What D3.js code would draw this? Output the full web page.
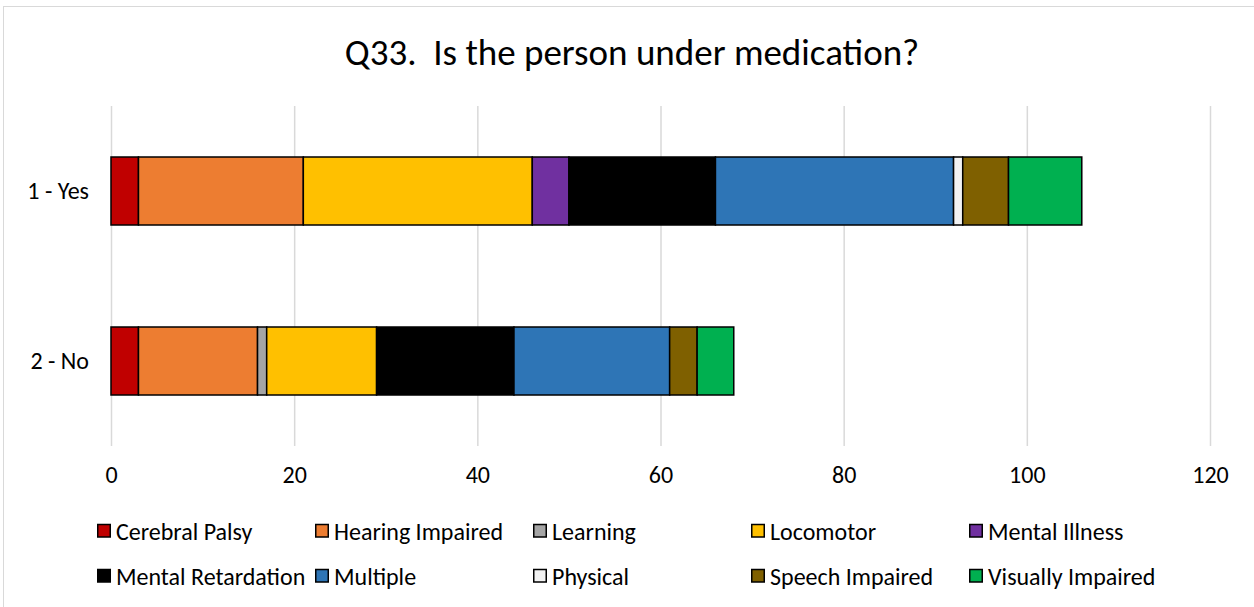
<!DOCTYPE html>
<html><head><meta charset="utf-8">
<script src="https://cdn.jsdelivr.net/npm/d3@7/dist/d3.min.js"></script>
<style>body{margin:0;background:#fff}svg{display:block}text{font-family:Carlito,Calibri,"Open Sans",sans-serif;fill:#000}</style>
</head><body><svg id="c" width="1254" height="607"></svg>
<script>
const categories = ["1 - Yes", "2 - No"];
const seriesNames = ["Cerebral Palsy","Hearing Impaired","Learning","Locomotor","Mental Illness","Mental Retardation","Multiple","Physical","Speech Impaired","Visually Impaired"];
const yesValues = [3, 18, 0, 25, 4, 16, 26, 1, 5, 8];
const noValues  = [3, 13, 1, 12, 0, 15, 17, 0, 3, 4];
const colors = ["#C00000","#ED7D31","#A5A5A5","#FFC000","#7030A0","#000000","#2E75B6","#F2F2F2","#7F6000","#00B050"];
const xTicks = [0,20,40,60,80,100,120];
const title = "Q33.  Is the person under medication?";

const svg = d3.select("#c");
svg.append("rect").attr("x",3.5).attr("y",6.5).attr("width",1260).attr("height",620)
  .attr("fill","#fff").attr("stroke","#d9d9d9").attr("stroke-width",1);

const pL=111, pR=1210, pT=106, pB=446;
const x = d3.scaleLinear().domain([0,120]).range([pL,pR]);
const y = d3.scaleBand().domain(categories).range([pT,pB]).paddingInner(0.6).paddingOuter(0.3);

svg.append("text").attr("x",632).attr("y",65).attr("text-anchor","middle")
  .style("font-size","37px").style("white-space","pre").text(title);

// gridlines
const grid = d3.axisBottom(x).tickValues(xTicks).tickSize(-(pB-pT)).tickFormat("");
svg.append("g").attr("transform",`translate(0,${pB})`).call(grid)
  .call(g=>{g.select(".domain").remove();g.selectAll("line").attr("stroke","#d9d9d9").attr("stroke-width",1.5);});

// x labels
const xa = d3.axisBottom(x).tickValues(xTicks).tickSize(0).tickPadding(0);
svg.append("g").attr("transform",`translate(0,${pB+37})`).call(xa)
  .attr("font-family",null).attr("font-size",null)
  .call(g=>{g.select(".domain").remove();g.selectAll("text").style("font-size","24px").attr("dy","0").attr("fill","#000");});

// y labels
const ya = d3.axisLeft(y).tickSize(0).tickPadding(22);
svg.append("g").attr("transform",`translate(${pL},0)`).call(ya)
  .attr("font-family",null).attr("font-size",null)
  .call(g=>{g.select(".domain").remove();g.selectAll("text").style("font-size","24px").attr("fill","#000");});

// stacked data
const rows = categories.map((c,i)=>{const o={cat:c};const v=i===0?yesValues:noValues;seriesNames.forEach((s,j)=>o[s]=v[j]);return o;});
const stack = d3.stack().keys(seriesNames)(rows);
const gBars = svg.append("g");
stack.forEach((layer,j)=>{
  gBars.selectAll(null).data(layer.filter(d=>d[1]-d[0]>0)).join("rect")
    .attr("x",d=>x(d[0])).attr("width",d=>x(d[1])-x(d[0]))
    .attr("y",d=>y(d.data.cat)).attr("height",y.bandwidth())
    .attr("fill",colors[j]).attr("stroke","#000").attr("stroke-width",1.5);
});

// legend
const legX0 = 97, legStep = 218;
const rowY = [531, 576];
seriesNames.forEach((s,i)=>{
  const r=Math.floor(i/5), c=i%5;
  const g=svg.append("g").attr("transform",`translate(${legX0+c*legStep},${rowY[r]})`);
  g.append("rect").attr("x",0.75).attr("y",-6.5).attr("width",12.5).attr("height",12.5)
    .attr("fill",colors[i]).attr("stroke","#000").attr("stroke-width",1.5);
  g.append("text").attr("x",19).attr("y",8.5).style("font-size","24px").text(s);
});
</script></body></html>
